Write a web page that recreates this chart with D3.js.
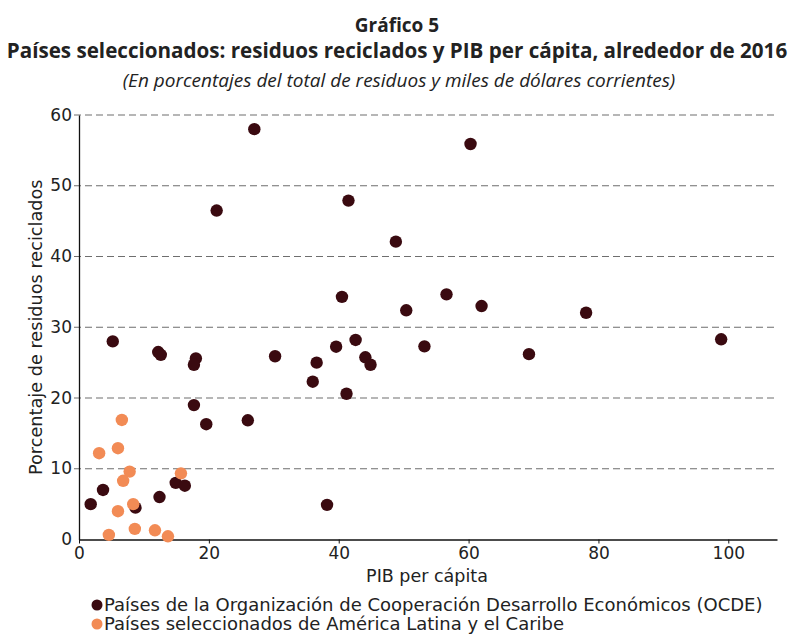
<!DOCTYPE html>
<html>
<head>
<meta charset="utf-8">
<script src="https://cdn.jsdelivr.net/npm/d3@7"></script>
<style>
  body { margin: 0; background: #fff; }
  text { font-family: "DejaVu Sans", sans-serif; fill: #222; }
  .title { font-family: "Open Sans", sans-serif; }
</style>
</head>
<body>
<svg id="chart" width="791" height="634"></svg>
<script>
// OCDE countries: GDP per capita (thousands USD) and % recycled
let ocdeX = [1.8, 3.7, 5.2, 8.7, 12.2, 12.6, 12.4, 14.9, 16.3, 18.0, 17.7, 17.7, 19.6, 21.2, 27.0, 26.0,
             30.2, 36.6, 36.0, 40.5, 41.5, 39.6, 42.6, 44.1, 44.9, 41.2, 38.2, 48.8, 50.4, 56.6, 62.0, 53.2,
             69.3, 60.3, 78.1, 98.9];
let ocdeY = [5.0, 7.0, 28.0, 4.5, 26.5, 26.1, 6.0, 8.0, 7.6, 25.6, 24.7, 19.0, 16.3, 46.5, 58.0, 16.85,
             25.9, 25.0, 22.3, 34.3, 47.9, 27.25, 28.2, 25.75, 24.7, 20.6, 4.9, 42.1, 32.4, 34.65, 33.0, 27.3,
             26.2, 55.9, 32.05, 28.3];
// selected Latin America and Caribbean countries
let alcX = [6.6, 3.1, 6.0, 7.8, 6.8, 15.7, 8.35, 6.0, 4.6, 8.6, 11.7, 13.7];
let alcY = [16.9, 12.2, 12.9, 9.6, 8.3, 9.35, 5.0, 4.0, 0.65, 1.5, 1.3, 0.45];

let xTicks = [0, 20, 40, 60, 80, 100];
let yTicks = [0, 10, 20, 30, 40, 50, 60];
let seriesNames = ["Países de la Organización de Cooperación Desarrollo Económicos (OCDE)",
                   "Países seleccionados de América Latina y el Caribe"];
let colors = ["#3a0a10", "#f28b55"];

let svg = d3.select("#chart");
let plotLeft = 79, plotRight = 777, plotTop = 115, plotBottom = 539.5;

let x = d3.scaleLinear().domain([0, 107.5]).range([plotLeft, plotRight]);
let y = d3.scaleLinear().domain([0, 60]).range([plotBottom, plotTop]);

// titles
svg.append("text")
    .attr("class", "title")
    .attr("x", 397).attr("y", 32)
    .attr("text-anchor", "middle")
    .style("font-size", "19px").style("font-weight", "bold")
    .text("Gráfico 5");
svg.append("text")
    .attr("class", "title")
    .attr("x", 397).attr("y", 58)
    .attr("text-anchor", "middle")
    .style("font-size", "20.6px").style("font-weight", "bold")
    .text("Países seleccionados: residuos reciclados y PIB per cápita, alrededor de 2016");
svg.append("text")
    .attr("class", "title")
    .attr("x", 399).attr("y", 87)
    .attr("text-anchor", "middle")
    .style("font-size", "19px").style("font-style", "italic")
    .text("(En porcentajes del total de residuos y miles de dólares corrientes)");

// gridlines
svg.append("g")
    .selectAll("line")
    .data(yTicks.filter(d => d > 0))
    .join("line")
    .attr("x1", plotLeft - 5).attr("x2", plotRight)
    .attr("y1", d => y(d)).attr("y2", d => y(d))
    .style("stroke", "#6e6e6e")
    .style("stroke-width", 1.2)
    .style("stroke-dasharray", "7,4");

// axes
let xAxis = svg.append("g")
    .attr("transform", "translate(0," + plotBottom + ")")
    .call(d3.axisBottom(x).tickValues(xTicks).tickSize(4).tickSizeOuter(0).tickPadding(3));
let yAxis = svg.append("g")
    .attr("transform", "translate(" + plotLeft + ",0)")
    .call(d3.axisLeft(y).tickValues(yTicks).tickSize(0).tickSizeOuter(0).tickPadding(7));

[xAxis, yAxis].forEach(a => {
    a.select(".domain").style("stroke", "#111").style("stroke-width", 1.3);
    a.selectAll(".tick line").style("stroke", "#111");
    a.selectAll(".tick text")
        .style("font-family", "\"DejaVu Sans\", sans-serif")
        .style("font-size", "17px")
        .style("fill", "#222");
});
yAxis.selectAll(".tick text").attr("dy", "0.3em");

// axis titles
svg.append("text")
    .attr("x", 427).attr("y", 582)
    .attr("text-anchor", "middle")
    .style("font-size", "17.5px")
    .text("PIB per cápita");
svg.append("text")
    .attr("transform", "translate(42," + ((plotTop + plotBottom) / 2) + ") rotate(-90)")
    .attr("text-anchor", "middle")
    .style("font-size", "17.7px")
    .text("Porcentaje de residuos reciclados");

// points
let ocde = ocdeX.map((d, i) => ({x: d, y: ocdeY[i]}));
let alc = alcX.map((d, i) => ({x: d, y: alcY[i]}));

svg.append("g")
    .selectAll("circle")
    .data(ocde)
    .join("circle")
    .attr("cx", d => x(d.x))
    .attr("cy", d => y(d.y))
    .attr("r", 6.2)
    .attr("fill", colors[0]);

svg.append("g")
    .selectAll("circle")
    .data(alc)
    .join("circle")
    .attr("cx", d => x(d.x))
    .attr("cy", d => y(d.y))
    .attr("r", 6.2)
    .attr("fill", colors[1]);

// legend
let legend = svg.append("g")
    .selectAll("g")
    .data(seriesNames)
    .join("g")
    .attr("transform", (d, i) => "translate(97," + (605 + i * 19) + ")");
legend.append("circle")
    .attr("r", 5.5)
    .attr("fill", (d, i) => colors[i]);
legend.append("text")
    .attr("x", 7).attr("y", 6)
    .style("font-size", "18px")
    .text(d => d);
</script>
</body>
</html>
